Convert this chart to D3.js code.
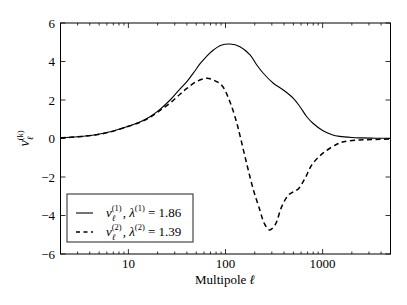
<!DOCTYPE html>
<html><head><meta charset="utf-8">
<script src="https://cdn.jsdelivr.net/npm/d3@7"></script>
<style>body{margin:0;background:#fff}svg{display:block}</style>
</head><body><svg id="c" width="407" height="305" font-family="'Liberation Serif', 'DejaVu Serif', serif"></svg>
<script>
const ell1 = [2, 3, 4.4, 6.5, 9.6, 13, 16.7, 21, 26.9, 33, 40, 47, 55, 64, 74, 90, 111, 141, 179, 210, 245, 311, 394, 500, 585, 687, 800, 1000, 1250, 1500, 2000, 2500, 3500, 5000];
const v1   = [0.03, 0.09, 0.18, 0.35, 0.61, 0.85, 1.13, 1.5, 2.0, 2.5, 2.95, 3.42, 3.9, 4.27, 4.57, 4.84, 4.91, 4.77, 4.34, 3.82, 3.39, 2.87, 2.52, 2.09, 1.65, 1.13, 0.78, 0.42, 0.2, 0.11, 0.05, 0.03, 0.015, 0.01];
const ell2 = [2, 3, 4.4, 6.5, 9.6, 13, 16.7, 21, 27, 34, 40, 50, 64, 74, 91, 111, 131, 141, 165, 194, 227, 250, 283, 323, 379, 444, 520, 562, 659, 772, 1016, 1400, 1650, 2400, 3500, 5000];
const v2   = [0.03, 0.09, 0.17, 0.34, 0.6, 0.83, 1.1, 1.45, 1.85, 2.3, 2.6, 2.95, 3.13, 3.05, 2.78, 1.91, 0.79, 0.15, -1.29, -2.68, -3.75, -4.4, -4.75, -4.5, -3.54, -2.94, -2.72, -2.62, -2.07, -1.38, -0.75, -0.3, -0.17, -0.08, -0.05, -0.03];
const xTicks = [10, 100, 1000];
const xTickLabels = ["10", "100", "1000"];
const yTicks = [-6, -4, -2, 0, 2, 4, 6];
const yTickLabels = ["\u22126", "\u22124", "\u22122", "0", "2", "4", "6"];
const legendValues = ["1.86", "1.39"];

const FONT = "'Liberation Serif', 'DejaVu Serif', serif";
const svg = d3.select("#c");
const L = 60.5, R = 390.5, T = 23, B = 254;
const x = d3.scaleLog().domain([2, 5000]).range([L, R]);
const y = d3.scaleLinear().domain([-6, 6]).range([B, T]);

// curves
const line = d3.line().x(d => x(d[0])).y(d => y(d[1])).curve(d3.curveCatmullRom.alpha(0.5));
svg.append("path").datum(ell1.map((e, i) => [e, v1[i]])).attr("d", line)
  .attr("fill", "none").attr("stroke", "#000").attr("stroke-width", 1.1);
svg.append("path").datum(ell2.map((e, i) => [e, v2[i]])).attr("d", line)
  .attr("fill", "none").attr("stroke", "#000").attr("stroke-width", 1.5).attr("stroke-dasharray", "5,3.5");

// frame
svg.append("rect").attr("x", L).attr("y", T).attr("width", R - L).attr("height", B - T)
  .attr("fill", "none").attr("stroke", "#000").attr("stroke-width", 1);

// ticks
const minor = [];
for (let d = 1; d <= 1000; d *= 10) for (let k = 2; k <= 9; k++) { const v = k * d; if (v >= 2 && v <= 5000) minor.push(v); }
const tg = svg.append("g").attr("stroke", "#000").attr("stroke-width", 0.8);
minor.forEach(v => {
  tg.append("line").attr("x1", x(v)).attr("x2", x(v)).attr("y1", B).attr("y2", B - 2.5);
  tg.append("line").attr("x1", x(v)).attr("x2", x(v)).attr("y1", T).attr("y2", T + 2.5);
});
xTicks.forEach(v => {
  tg.append("line").attr("x1", x(v)).attr("x2", x(v)).attr("y1", B).attr("y2", B - 5);
  tg.append("line").attr("x1", x(v)).attr("x2", x(v)).attr("y1", T).attr("y2", T + 5);
});
yTicks.forEach(v => {
  tg.append("line").attr("x1", L).attr("x2", L + 5).attr("y1", y(v)).attr("y2", y(v));
  tg.append("line").attr("x1", R).attr("x2", R - 5).attr("y1", y(v)).attr("y2", y(v));
});

// tick labels
xTicks.forEach((v, i) => svg.append("text").attr("font-family", FONT).attr("x", x(v)).attr("y", 268).attr("text-anchor", "middle")
  .attr("font-size", 13).text(xTickLabels[i]));
yTicks.forEach((v, i) => svg.append("text").attr("font-family", FONT).attr("x", 55).attr("y", y(v) + 4.5).attr("text-anchor", "end")
  .attr("font-size", 13).text(yTickLabels[i]));

// x label
const xl = svg.append("text").attr("font-family", FONT).attr("x", 225).attr("y", 284).attr("text-anchor", "middle").attr("font-size", 13);
xl.append("tspan").text("Multipole ");
xl.append("tspan").attr("font-style", "italic").text("\u2113");

// math helper
function mathText(g, x0, y0, parts) {
  let cx = x0;
  parts.forEach(p => {
    if (p.stack) {
      const a = g.append("text").attr("font-family", FONT).attr("x", cx).attr("y", y0 - 6).attr("font-size", 8.5).text(p.sup);
      const b = g.append("text").attr("font-family", FONT).attr("x", cx).attr("y", y0 + 3.5).attr("font-size", 8.5).attr("font-style", "italic").text(p.sub);
      cx += Math.max(a.node().getComputedTextLength(), b.node().getComputedTextLength()) + 1;
    } else {
      const t = g.append("text").attr("font-family", FONT).attr("x", cx).attr("y", y0 + (p.dy || 0)).attr("font-size", p.size || 13)
        .attr("font-style", p.italic ? "italic" : "normal").style("white-space", "pre").text(p.t);
      cx += t.node().getComputedTextLength();
    }
  });
  return cx - x0;
}

// y label
const yg = svg.append("g");
const yw = mathText(yg, 0, 0, [{t: "v", italic: true, size: 14}, {stack: true, sup: "(k)", sub: "\u2113"}]);
yg.attr("transform", `translate(29,${138 + yw / 2}) rotate(-90)`);

// legend
const lg = svg.append("g");
lg.append("rect").attr("x", 67).attr("y", 194).attr("width", 126).attr("height", 48)
  .attr("fill", "#fff").attr("stroke", "#555").attr("stroke-width", 1.3);
lg.append("line").attr("x1", 76).attr("x2", 93).attr("y1", 213).attr("y2", 213).attr("stroke", "#000").attr("stroke-width", 1.1);
lg.append("line").attr("x1", 76).attr("x2", 93).attr("y1", 232).attr("y2", 232).attr("stroke", "#000").attr("stroke-width", 1.5).attr("stroke-dasharray", "4,3.5");
["(1)", "(2)"].forEach((k, i) => {
  mathText(lg, 106, 217 + i * 19, [
    {t: "v", italic: true},
    {stack: true, sup: k, sub: "\u2113"},
    {t: ",\u00a0"},
    {t: "\u03bb", italic: true},
    {t: k, size: 8.5, dy: -6},
    {t: "\u00a0=\u00a0" + legendValues[i]}
  ]);
});
</script></body></html>
